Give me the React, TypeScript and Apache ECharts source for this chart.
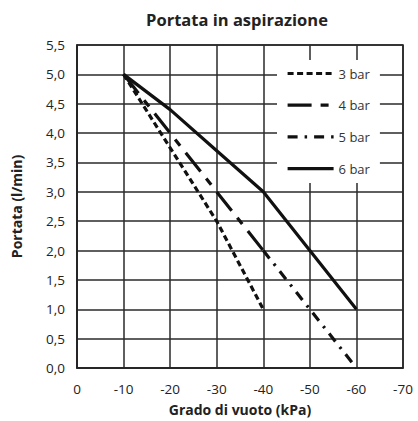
import React, { useEffect, useRef } from "react";
import * as echarts from "echarts";

const titleText = "Portata in aspirazione";
const xName = "Grado di vuoto (kPa)";
const yName = "Portata (l/min)";
const seriesNames = ["3 bar", "4 bar", "5 bar", "6 bar"];
const vacuum3 = [-10, -20, -30, -40];
const flow3 = [5.0, 3.75, 2.5, 1.0];
const vacuum4 = [-10, -20, -30, -40];
const flow4 = [5.0, 4.0, 3.0, 2.0];
const vacuum5 = [-40, -50, -60];
const flow5 = [2.0, 1.0, 0.0];
const vacuum6 = [-10, -20, -30, -40, -50, -60];
const flow6 = [5.0, 4.4, 3.7, 3.0, 2.0, 1.0];

const zip = (xs: number[], ys: number[]) => xs.map((x, i) => [x, ys[i]]);

const FONT = "'Open Sans', 'Noto Sans', sans-serif";

export default function App() {
  const ref = useRef<HTMLDivElement>(null);
  useEffect(() => {
    document.body.style.margin = "0";
    if (!ref.current) return;
    const chart = echarts.init(ref.current, undefined, { renderer: "svg" });
    const lineBase = (name: string, data: number[][], type: any, width = 3.2) => ({
      name,
      type: "line",
      data,
      symbol: "none",
      lineStyle: { color: "#111", width, type },
      itemStyle: { color: "#111" },
      z: 3,
    });
    chart.setOption({
      animation: false,
      title: {
        text: titleText,
        left: 232,
        top: 6,
        textAlign: "center",
        textStyle: { fontFamily: FONT, fontWeight: "bold", fontSize: 16.5, color: "#222" },
      },
      grid: {
        left: 77,
        right: 15,
        top: 45,
        bottom: 53,
        show: true,
        borderColor: "#222",
        borderWidth: 1.6,
      },
      legend: {
        orient: "vertical",
        left: 277,
        top: 60,
        width: 100,
        padding: [7, 10, 8, 9],
        itemWidth: 46,
        itemHeight: 14,
        itemGap: 18.7,
        backgroundColor: "#ffffff",
        data: seriesNames,
        itemStyle: { opacity: 0, borderWidth: 0 },
        lineStyle: { width: 3.2, color: "#111" },
        textStyle: { fontFamily: FONT, fontSize: 13, color: "#333" },
      },
      xAxis: {
        type: "value",
        min: -70,
        max: 0,
        interval: 10,
        inverse: true,
        name: xName,
        nameLocation: "middle",
        nameGap: 34,
        nameTextStyle: { fontFamily: FONT, fontWeight: "bold", fontSize: 14, color: "#222" },
        axisLine: { show: true, lineStyle: { color: "#222", width: 1.6 } },
        axisTick: { show: false },
        axisLabel: { fontFamily: FONT, fontSize: 13.5, color: "#222", margin: 14 },
        splitLine: { show: true, lineStyle: { color: "#2a2a2a", width: 1.5 } },
      },
      yAxis: {
        type: "value",
        min: 0,
        max: 5.5,
        interval: 0.5,
        name: yName,
        nameLocation: "middle",
        nameGap: 54,
        nameRotate: 90,
        nameTextStyle: { fontFamily: FONT, fontWeight: "bold", fontSize: 14, color: "#222" },
        axisLine: { show: true, lineStyle: { color: "#222", width: 1.6 } },
        axisTick: { show: false },
        axisLabel: {
          fontFamily: FONT,
          fontSize: 13.5,
          color: "#222",
          margin: 12,
          formatter: (v: number) => v.toFixed(1).replace(".", ","),
        },
        splitLine: { show: true, lineStyle: { color: "#2a2a2a", width: 1.5 } },
      },
      series: [
        lineBase(seriesNames[0], zip(vacuum3, flow3), [6, 3.5]),
        lineBase(seriesNames[1], zip(vacuum4, flow4), [24, 9, 8, 9]),
        lineBase(seriesNames[2], zip(vacuum5, flow5), [10, 7, 2.5, 7]),
        lineBase(seriesNames[3], zip(vacuum6, flow6), "solid"),
      ],
    });
    return () => chart.dispose();
  }, []);
  return <div ref={ref} style={{ width: 418, height: 421 }} />;
}
